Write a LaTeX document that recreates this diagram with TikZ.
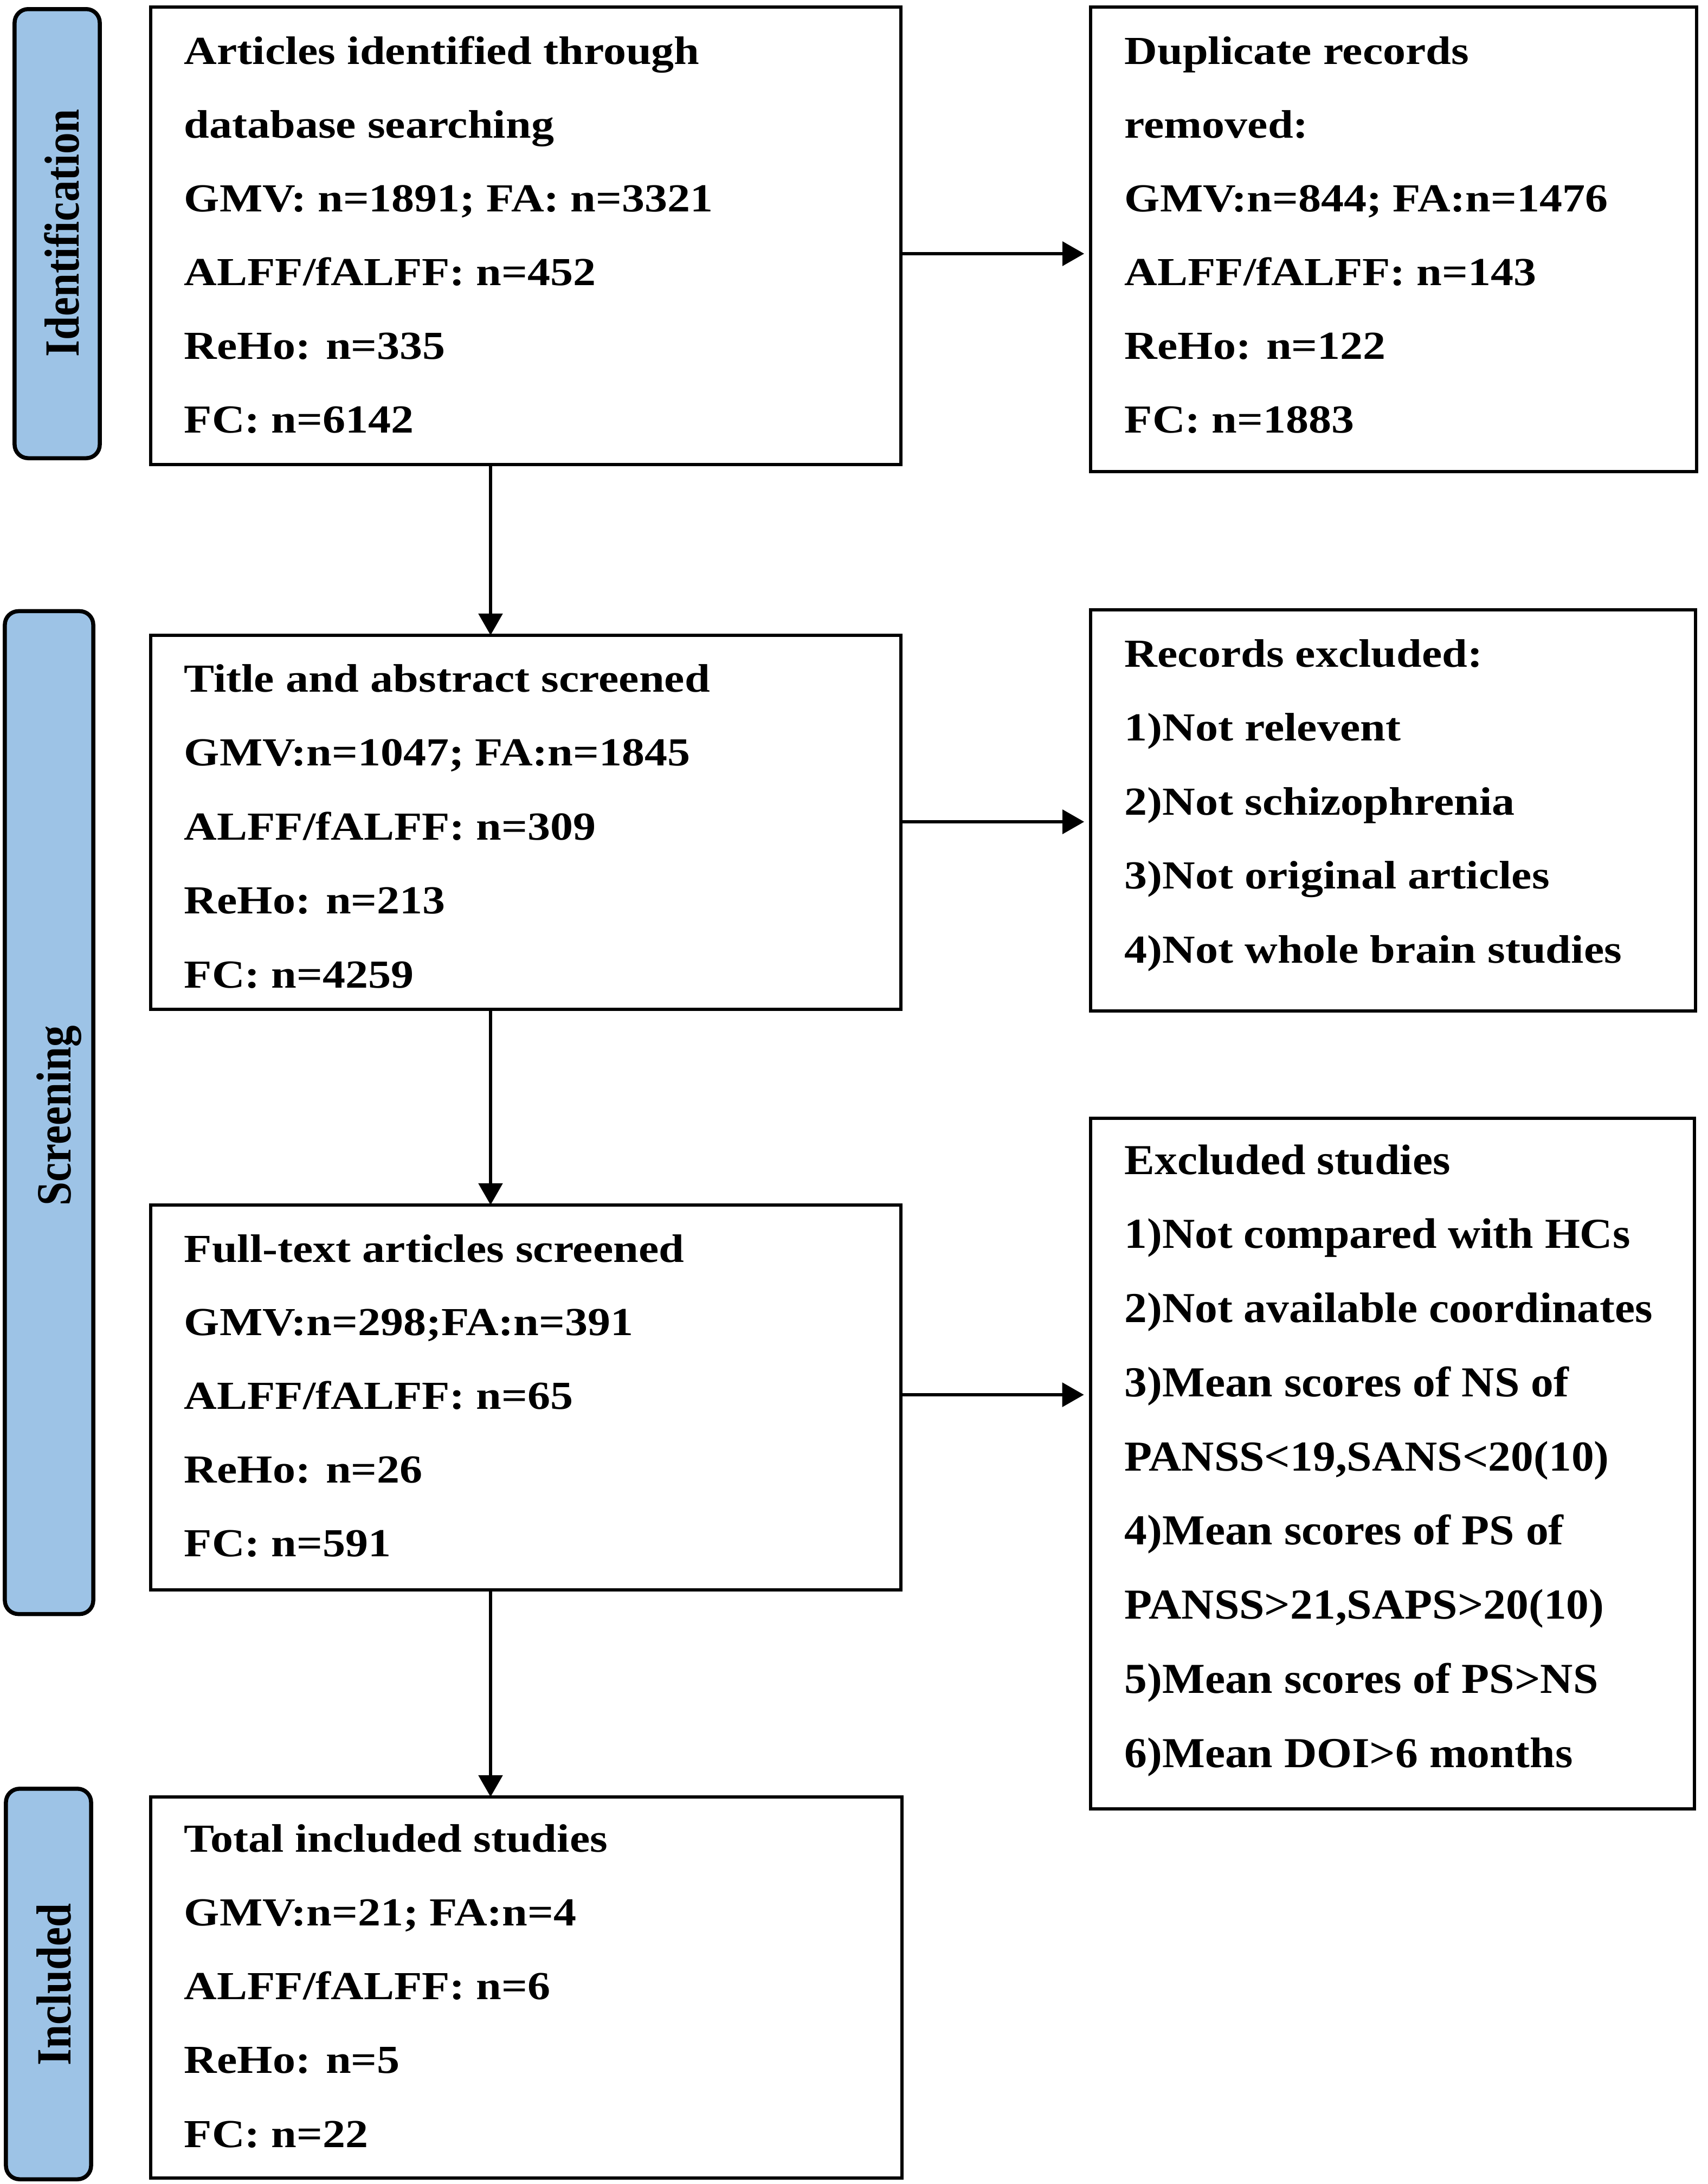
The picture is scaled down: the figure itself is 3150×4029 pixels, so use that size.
\documentclass[tikz,border=0pt]{standalone}
\usepackage{fontspec}
\newfontfamily\bodyf{Liberation Serif}[FakeStretch=1.146]
\newfontfamily\widef{Liberation Serif}[FakeStretch=1.06]
\newfontfamily\labf{Liberation Serif}
\usetikzlibrary{arrows.meta}
\definecolor{labblue}{RGB}{157,195,230}
\begin{document}
\begin{tikzpicture}[x=0.01cm,y=-0.01cm,
  box/.style={draw, line width=0.06cm, outer sep=0pt, inner sep=0pt},
  lab/.style={draw, fill=labblue, line width=0.075cm, rounded corners=0.25cm, outer sep=0pt, inner sep=0pt},
  txt/.style={anchor=base west, inner sep=0pt, font=\bodyf\fontsize{20.85pt}{25pt}\selectfont\bfseries},
  wtxt/.style={anchor=base west, inner sep=0pt, font=\widef\fontsize{22.4pt}{26pt}\selectfont\bfseries},
  labtxt/.style={rotate=90, anchor=base, inner sep=0pt, font=\labf\fontsize{22.5pt}{26pt}\selectfont\bfseries},
  arr/.style={line width=0.06cm, -{Triangle[length=0.4cm,width=0.44cm]}}]
\useasboundingbox (0,0) rectangle (3150,4029);
\fill[white] (0,0) rectangle (3150,4029);
% stage labels
\node[lab, minimum width=1.57cm, minimum height=8.28cm] (l1) at (105.5,431) {};
\node[lab, minimum width=1.63cm, minimum height=18.49cm] (l2) at (90.5,2052.5) {};
\node[lab, minimum width=1.57cm, minimum height=7.20cm] (l3) at (89.5,3660) {};
\node[labtxt] (l1t) at (145,430) {\scalebox{1}[1.146]{Identification}};
\node[labtxt] (l2t) at (130,2058) {\scalebox{1}[1.146]{Screening}};
\node[labtxt] (l3t) at (130,3661) {\scalebox{1}[1.146]{Included}};
% boxes
\node[box, minimum width=13.83cm, minimum height=8.44cm] (b1) at (970,435) {};
\node[box, minimum width=11.17cm, minimum height=8.57cm] (b2) at (2571,441.5) {};
\node[box, minimum width=13.83cm, minimum height=6.90cm] (b3) at (970,1517) {};
\node[box, minimum width=11.15cm, minimum height=7.40cm] (b4) at (2570,1495) {};
\node[box, minimum width=13.83cm, minimum height=7.10cm] (b5) at (970,2578) {};
\node[box, minimum width=11.14cm, minimum height=12.74cm] (b6) at (2569,2700) {};
\node[box, minimum width=13.85cm, minimum height=7.03cm] (b7) at (971,3666.5) {};
% texts
\foreach \s [count=\i from 0] in {{Articles identified through}, {database searching}, {GMV: n=1891; FA: n=3321}, {ALFF/fALFF: n=452}, {ReHo: n=335}, {FC: n=6142}}
  \node[txt] (t1-\i) at (339,{118+136*\i}) {\s};
\foreach \s [count=\i from 0] in {{Duplicate records}, {removed:}, {GMV:n=844; FA:n=1476}, {ALFF/fALFF: n=143}, {ReHo: n=122}, {FC: n=1883}}
  \node[txt] (t2-\i) at (2074,{118+136*\i}) {\s};
\foreach \s [count=\i from 0] in {{Title and abstract screened}, {GMV:n=1047; FA:n=1845}, {ALFF/fALFF: n=309}, {ReHo: n=213}, {FC: n=4259}}
  \node[txt] (t3-\i) at (339,{1276+136.5*\i}) {\s};
\foreach \s [count=\i from 0] in {{Records excluded:}, {1)Not relevent}, {2)Not schizophrenia}, {3)Not original articles}, {4)Not whole brain studies}}
  \node[txt] (t4-\i) at (2074,{1230+136.5*\i}) {\s};
\foreach \s [count=\i from 0] in {{Full-text articles screened}, {GMV:n=298;FA:n=391}, {ALFF/fALFF: n=65}, {ReHo: n=26}, {FC: n=591}}
  \node[txt] (t5-\i) at (339,{2328+135.75*\i}) {\s};
\foreach \s [count=\i from 0] in {{Excluded studies}, {1)Not compared with HCs}, {2)Not available coordinates}, {3)Mean scores of NS of}, {PANSS<19,SANS<20(10)}, {4)Mean scores of PS of}, {PANSS>21,SAPS>20(10)}, {5)Mean scores of PS>NS}, {6)Mean DOI>6 months}}
  \node[wtxt] (t6-\i) at (2074,{2166+136.75*\i}) {\s};
\foreach \s [count=\i from 0] in {{Total included studies}, {GMV:n=21; FA:n=4}, {ALFF/fALFF: n=6}, {ReHo: n=5}, {FC: n=22}}
  \node[txt] (t7-\i) at (339,{3416+136.25*\i}) {\s};
% connectors
\coordinate (cx) at (905,0);
\coordinate (r1) at (0,468);
\coordinate (r2) at (0,1516);
\coordinate (r3) at (0,2573);
\draw[arr] (b1.south -| cx) -- (b3.north -| cx);
\draw[arr] (b3.south -| cx) -- (b5.north -| cx);
\draw[arr] (b5.south -| cx) -- (b7.north -| cx);
\draw[arr, shorten >=0.12cm] (b1.east |- r1) -- (b2.west |- r1);
\draw[arr, shorten >=0.12cm] (b3.east |- r2) -- (b4.west |- r2);
\draw[arr, shorten >=0.12cm] (b5.east |- r3) -- (b6.west |- r3);
\end{tikzpicture}
\end{document}
